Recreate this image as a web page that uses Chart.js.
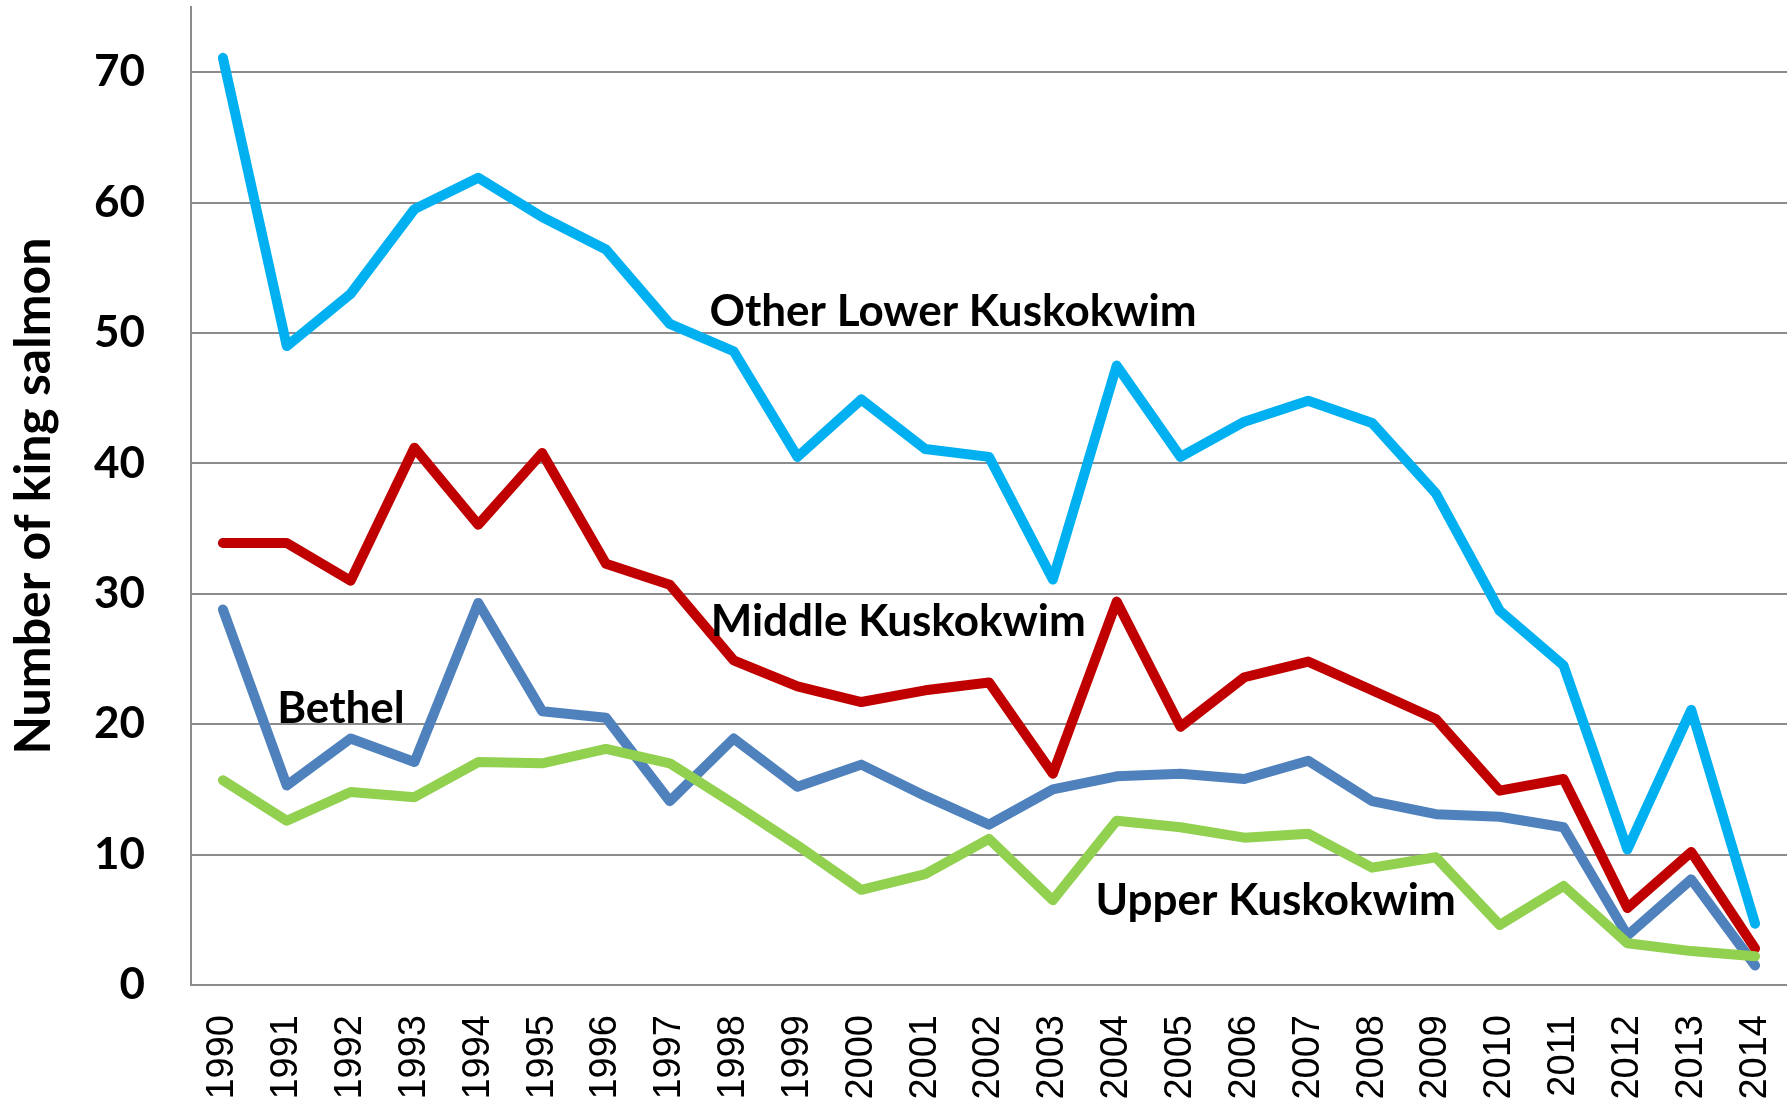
<!DOCTYPE html>
<html>
<head>
<meta charset="utf-8">
<title>King salmon</title>
<script src="https://cdn.jsdelivr.net/npm/chart.js@4/dist/chart.umd.min.js"></script>
<style>
  html, body { margin: 0; padding: 0; background: #fff; }
  #chart-wrap { width: 1787px; height: 1102px; }
</style>
</head>
<body>
<div id="chart-wrap"><canvas id="salmon-chart"></canvas></div>
<script>
const years = ["1990", "1991", "1992", "1993", "1994", "1995", "1996", "1997", "1998", "1999",
  "2000", "2001", "2002", "2003", "2004", "2005", "2006", "2007", "2008", "2009",
  "2010", "2011", "2012", "2013", "2014"];

const otherLower = [71.1, 49.0, 53.0, 59.5, 61.9, 58.9, 56.4, 50.7, 48.6, 40.5,
  44.9, 41.1, 40.5, 31.1, 47.5, 40.5, 43.2, 44.8, 43.1, 37.7,
  28.7, 24.5, 10.4, 21.1, 4.7];
const middle = [33.9, 33.9, 31.0, 41.2, 35.3, 40.8, 32.3, 30.7, 24.9, 22.9,
  21.7, 22.6, 23.2, 16.2, 29.4, 19.8, 23.6, 24.8, 22.6, 20.4,
  14.9, 15.8, 5.9, 10.2, 2.8];
const bethel = [28.8, 15.3, 18.9, 17.1, 29.3, 21.0, 20.5, 14.1, 18.9, 15.2,
  16.9, 14.5, 12.3, 15.0, 16.0, 16.2, 15.8, 17.2, 14.1, 13.1,
  12.9, 12.1, 3.8, 8.1, 1.5];
const upper = [15.7, 12.6, 14.8, 14.4, 17.1, 17.0, 18.1, 17.0, 13.9, 10.7,
  7.3, 8.5, 11.2, 6.5, 12.6, 12.1, 11.3, 11.6, 9.0, 9.8,
  4.6, 7.6, 3.2, 2.6, 2.2];

const yTicks = [0, 10, 20, 30, 40, 50, 60, 70];

// series name labels, anchored on the chart in (year index, value) units
const labelNames = ["Other Lower Kuskokwim", "Middle Kuskokwim", "Bethel", "Upper Kuskokwim"];
const labelAtIndex = [7.62, 7.64, 0.85, 13.67];
const labelAtValue = [50.5, 26.8, 20.1, 5.4];

const gridGray = "#8c8c8c";

const seriesLabels = {
  id: "seriesLabels",
  afterDatasetsDraw(chart) {
    const ctx = chart.ctx;
    const x = chart.scales.x;
    const y = chart.scales.y;
    ctx.save();
    ctx.fillStyle = "#000";
    ctx.font = "bold 44px Lato";
    ctx.textAlign = "left";
    ctx.textBaseline = "alphabetic";
    labelNames.forEach((name, i) => {
      ctx.fillText(name, x.getPixelForValue(labelAtIndex[i]), y.getPixelForValue(labelAtValue[i]));
    });
    ctx.restore();
  },
};

function lineSet(label, data, color) {
  return {
    label: label,
    data: data,
    borderColor: color,
    backgroundColor: color,
    borderWidth: 10,
    borderCapStyle: "round",
    borderJoinStyle: "round",
    pointRadius: 0,
    tension: 0,
    fill: false,
  };
}

function createChart() {
  const ctx = document.getElementById("salmon-chart").getContext("2d");
  new Chart(ctx, {
    type: "line",
    data: {
      labels: years,
      // first dataset is drawn on top
      datasets: [
        lineSet("Upper Kuskokwim", upper, "#92d050"),
        lineSet("Other Lower Kuskokwim", otherLower, "#00b0f0"),
        lineSet("Middle Kuskokwim", middle, "#c00000"),
        lineSet("Bethel", bethel, "#4f81bd"),
      ],
    },
    options: {
      responsive: true,
      maintainAspectRatio: false,
      animation: false,
      layout: { padding: { top: 7, right: 0, bottom: 0, left: 0 } },
      plugins: {
        legend: { display: false },
        tooltip: { enabled: false },
      },
      scales: {
        x: {
          offset: true,
          // invisible tick marks keep the labels clear of the axis
          grid: { display: true, drawOnChartArea: false, drawTicks: true, tickLength: 30, tickColor: "rgba(0,0,0,0)" },
          border: { display: true, color: gridGray, width: 2 },
          ticks: {
            color: "#000",
            font: { family: "Liberation Sans", size: 38, lineHeight: 0.8 },
            minRotation: 90,
            maxRotation: 90,
            padding: 0,
            autoSkip: false,
          },
          afterFit: (axis) => { axis.height = 117; },
        },
        y: {
          min: 0,
          max: 75,
          afterBuildTicks: (axis) => {
            axis.ticks = yTicks.map((v) => ({ value: v }));
          },
          grid: { color: gridGray, lineWidth: 2, drawTicks: true, tickLength: 46, tickColor: "rgba(0,0,0,0)" },
          border: { display: true, color: gridGray, width: 2 },
          ticks: {
            color: "#000",
            font: { family: "Lato", size: 44, weight: "bold", lineHeight: 0.3 },
            padding: 0,
          },
          title: {
            display: true,
            text: "Number of king salmon",
            color: "#000",
            font: { family: "Lato", size: 50, weight: "bold" },
            padding: { top: 4, bottom: 0 },
          },
          afterFit: (axis) => { axis.width = 191; },
        },
      },
    },
    plugins: [seriesLabels],
  });
}

document.addEventListener("DOMContentLoaded", () => {
  createChart();
});
</script>
</body>
</html>
